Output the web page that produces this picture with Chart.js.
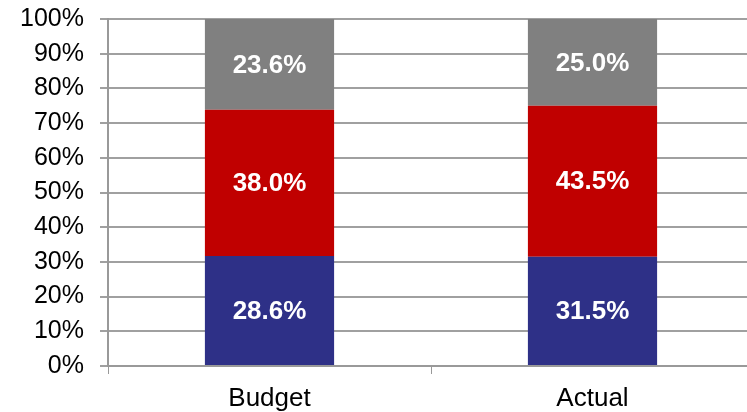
<!DOCTYPE html>
<html>
<head>
<meta charset="utf-8">
<script src="https://cdn.jsdelivr.net/npm/chart.js@4"></script>
<style>
  html, body { margin: 0; padding: 0; background: #fff; overflow: hidden; }
  #wrap { position: relative; width: 747px; height: 412px; overflow: hidden; }
  #mycanvas { position: absolute; left: 0; top: -12px; }
</style>
</head>
<body>
<div id="wrap"><canvas id="mycanvas" width="754" height="424"></canvas></div>
<script>
var categories = ['Budget', 'Actual'];
var bottomVals = [28.6, 31.5];
var middleVals = [38.0, 43.5];
var topVals = [23.6, 25.0];
var yTicks = [0, 10, 20, 30, 40, 50, 60, 70, 80, 90, 100];

// each column is scaled to 100% of its own total
var totals = categories.map(function(c, i) {
  return bottomVals[i] + middleVals[i] + topVals[i];
});
function share(vals) {
  return vals.map(function(v, i) { return v / totals[i] * 100; });
}

var rawByDataset = [bottomVals, middleVals, topVals];

// white value labels in the middle of each segment
var segmentLabels = {
  id: 'segmentLabels',
  afterDatasetsDraw: function(chart) {
    var ctx = chart.ctx;
    ctx.save();
    ctx.fillStyle = '#ffffff';
    ctx.font = 'bold 26px "Liberation Sans", Arial, sans-serif';
    ctx.textAlign = 'center';
    ctx.textBaseline = 'middle';
    chart.data.datasets.forEach(function(ds, di) {
      var meta = chart.getDatasetMeta(di);
      meta.data.forEach(function(bar, i) {
        var y = (bar.y + bar.base) / 2;
        ctx.fillText(rawByDataset[di][i].toFixed(1) + '%', bar.x, y + 1);
      });
    });
    ctx.restore();
  }
};

var chartdata = {
  labels: categories,
  datasets: [
    { label: 'bottom', data: share(bottomVals), backgroundColor: '#2e3087' },
    { label: 'middle', data: share(middleVals), backgroundColor: '#c00000' },
    { label: 'top', data: share(topVals), backgroundColor: '#808080' }
  ]
};

var ctx = document.getElementById('mycanvas');

var BarGraph = new Chart(ctx, {
  type: 'bar',
  data: chartdata,
  plugins: [segmentLabels],
  options: {
    responsive: false,
    animation: false,
    layout: { padding: { top: 8, right: 0, left: 0, bottom: 0 } },
    datasets: { bar: { categoryPercentage: 1, barPercentage: 0.4, borderWidth: 0 } },
    plugins: { legend: { display: false }, tooltip: { enabled: false } },
    scales: {
      x: {
        stacked: true,
        grid: { display: true, drawOnChartArea: false, color: '#999999', tickLength: 8 },
        border: { color: '#999999', width: 2 },
        ticks: { color: '#000', padding: 9, font: { family: '"Liberation Sans", Arial, sans-serif', size: 26 } },
        afterFit: function(scale) { scale.height = 46; }
      },
      y: {
        stacked: true,
        min: 0,
        max: 100,
        afterBuildTicks: function(scale) {
          scale.ticks = yTicks.map(function(v) { return { value: v }; });
        },
        grid: { color: '#a0a0a0', lineWidth: 2, tickLength: 8 },
        border: { color: '#999999', width: 2 },
        ticks: {
          color: '#000',
          padding: 16,
          font: { family: '"Liberation Sans", Arial, sans-serif', size: 25 },
          callback: function(v) { return v + '%'; }
        },
        afterFit: function(scale) { scale.width = 108; }
      }
    }
  }
});
</script>
</body>
</html>
